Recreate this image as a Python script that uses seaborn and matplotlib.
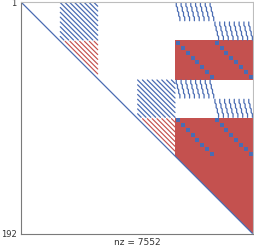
import numpy as np
import pandas as pd
import matplotlib
matplotlib.use("Agg")
import matplotlib.pyplot as plt
import seaborn as sns

n = 192
nz_text = "nz = 7552"
blk = 32

# 45 degree hatched blocks (every 4th diagonal): (first row, first col)
hatch_blue = [(0, 32), (64, 96)]
hatch_red = [(32, 32), (96, 96)]      # upper triangle part only
# steep "staircase" stripes: first rows, column blocks
stair_rows = [0, 64]
stair_cols = [128, 160]
# dense fill
dense_rows = [32]                      # rows 32-63, cols 128-191
dense_tri_row = 96                     # rows 96-191, cols 128-191, upper part
dense_col = 128
# block diagonals drawn with large blue squares
bigsq_rows = [32, 96]
bigsq_cols = [128, 160]

blue = "#4a6cb3"
red = "#c4514f"

rows, cols, kind, stripe = [], [], [], []
def add(r, c, k, s):
    rows.append(r + 1); cols.append(c + 1); kind.append(k); stripe.append(s)

for r in range(n):
    add(r, r, "blue", "diag")
for b, (r0, c0) in enumerate(hatch_blue):
    for r in range(r0, r0 + blk):
        for c in range(c0, c0 + blk):
            if (c - r) % 4 == 0:
                add(r, c, "blue", f"hb{b}_{c - r}")
for b, (r0, c0) in enumerate(hatch_red):
    for r in range(r0, r0 + blk):
        for c in range(r + 1, c0 + blk):
            if (c - r) % 4 == 0:
                add(r, c, "red", f"hr{b}_{c - r}")
for r0 in stair_rows:
    for half, c0 in enumerate(stair_cols):
        for i in range(16):
            r = r0 + 16 * half + i
            for k in range(8):
                add(r, c0 + 4 * k + i // 4, "blue", f"st{r0}_{half}_{k}")
for r0 in dense_rows:
    for r in range(r0, r0 + blk):
        for c in range(dense_col, n):
            add(r, c, "dense", "")
for r in range(dense_tri_row, n):
    for c in range(max(dense_col, r + 1), n):
        add(r, c, "dense", "")

df = pd.DataFrame({"row": rows, "col": cols, "kind": kind, "stripe": stripe})

sq = []
for r0 in bigsq_rows:
    for c0 in bigsq_cols:
        for m in range(8):
            sq.append((r0 + 4 * m + 2.5, c0 + 4 * m + 2.5))
sq = pd.DataFrame(sq, columns=["row", "col"])

sns.set_style("white")
fig = plt.figure(figsize=(2.54, 2.49), dpi=100)
ax = fig.add_axes([21 / 254, 1 - 234 / 249, 232 / 254, 232 / 249])

sns.scatterplot(data=df[df.kind == "dense"], x="col", y="row", color=red,
                marker="s", s=3.0, linewidth=0, ax=ax, legend=False)
sns.lineplot(data=df[df.kind == "red"], x="col", y="row", units="stripe",
             estimator=None, sort=False, color=red, lw=0.85, ax=ax, legend=False)
sns.lineplot(data=df[df.kind == "blue"], x="col", y="row", units="stripe",
             estimator=None, sort=False, color=blue, lw=0.9, ax=ax, legend=False)
sns.scatterplot(data=sq, x="col", y="row", color=blue,
                marker="s", s=10.5, linewidth=0, ax=ax, legend=False)

ax.set_xlim(0.5, n + 0.5)
ax.set_ylim(n + 0.5, 0.5)
ax.set_xticks([])
ax.set_yticks([1, n])
ax.set_yticklabels(["1", str(n)], fontsize=6, color="#333333")
ax.tick_params(axis="y", length=1.2, width=0.6, color="#777777", pad=2)
ax.set_ylabel("")
ax.set_xlabel(nz_text, fontsize=6.5, color="#333333", labelpad=3)
for s in ["left", "bottom"]:
    ax.spines[s].set_color("#7a7a7a")
    ax.spines[s].set_linewidth(0.8)
for s in ["top", "right"]:
    ax.spines[s].set_color("#bdbdbd")
    ax.spines[s].set_linewidth(0.8)

fig.savefig("out.png", dpi=100)
